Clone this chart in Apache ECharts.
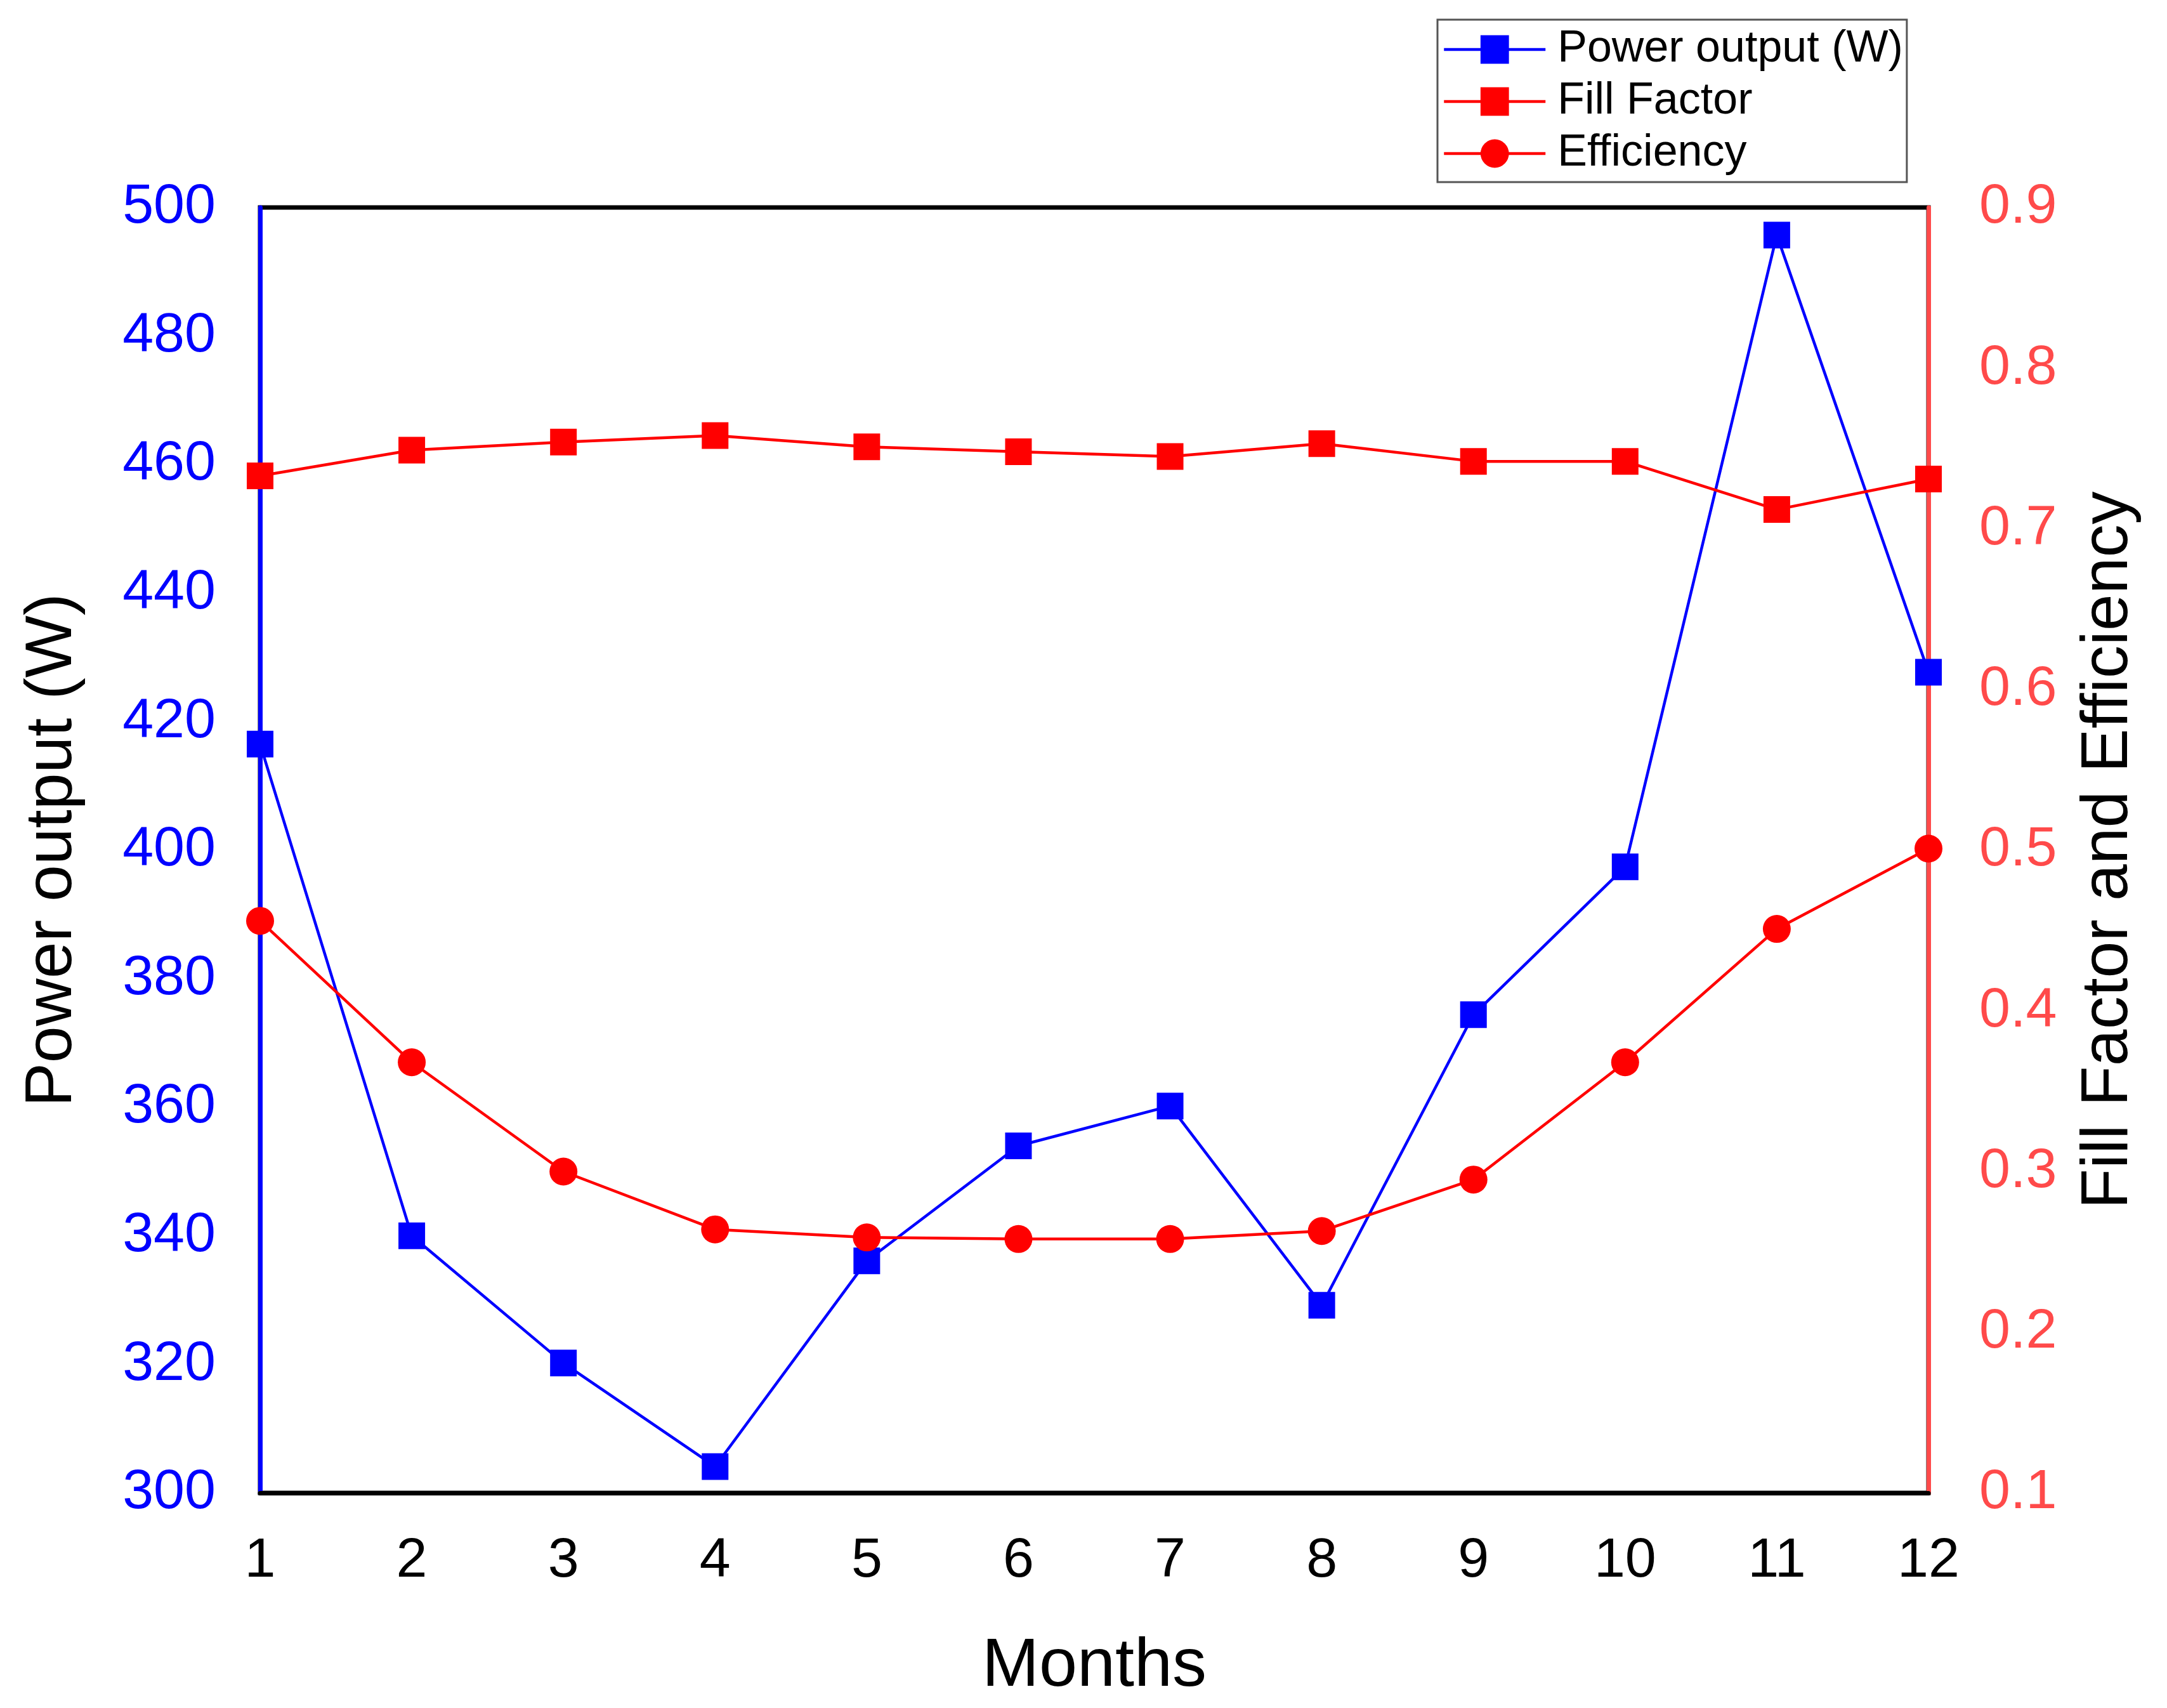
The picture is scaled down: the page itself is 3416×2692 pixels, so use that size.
<!DOCTYPE html>
<html>
<head>
<meta charset="utf-8">
<script src="https://cdn.jsdelivr.net/npm/echarts@6/dist/echarts.min.js"></script>
<style>html,body{margin:0;padding:0;background:#fff;}#c{width:3416px;height:2692px;}</style>
</head>
<body>
<div id="c"></div>
<script>
const months = [1,2,3,4,5,6,7,8,9,10,11,12];
const powerOutput = [416.5, 340.0, 320.2, 304.1, 336.1, 354.0, 360.2, 329.2, 374.4, 397.4, 495.7, 427.7];
const fillFactor = [0.733, 0.749, 0.754, 0.758, 0.751, 0.748, 0.745, 0.753, 0.742, 0.742, 0.712, 0.731];
const efficiency = [0.456, 0.368, 0.300, 0.264, 0.259, 0.258, 0.258, 0.263, 0.295, 0.368, 0.451, 0.501];

const FONT = '"Liberation Sans", Arial, sans-serif';
const BLUE = '#0000ff';
const RED = '#ff0000';
const RED_AX = '#ff4a4a';

const pair = (xs, ys) => xs.map((x, i) => [x, ys[i]]);

const chart = echarts.init(document.getElementById('c'), null, {renderer: 'canvas'});
chart.setOption({
  backgroundColor: '#ffffff',
  animation: false,
  textStyle: {fontFamily: FONT},
  grid: {left: 410, right: 376, top: 327, bottom: 339, show: true, borderColor: '#000', borderWidth: 7, backgroundColor: 'transparent'},
  legend: {
    left: 2266, top: 31, orient: 'vertical',
    padding: [12, 6, 10, 8],
    itemWidth: 160, itemHeight: 56, itemGap: 12,
    borderColor: '#555', borderWidth: 3,
    lineStyle: {width: 4.5},
    textStyle: {fontSize: 70, color: '#000', fontFamily: FONT, padding: [0, 0, 0, 14]},
    data: ['Power output (W)', 'Fill Factor', 'Efficiency']
  },
  xAxis: {
    type: 'value', min: 1, max: 12, interval: 1,
    name: 'Months', nameLocation: 'middle', nameGap: 220,
    nameTextStyle: {fontSize: 108, color: '#000', fontFamily: FONT},
    axisLine: {show: true, lineStyle: {color: '#000', width: 7}},
    axisTick: {show: false},
    splitLine: {show: false},
    axisLabel: {fontSize: 88, color: '#000', margin: 64, fontFamily: FONT}
  },
  yAxis: [
    {
      type: 'value', min: 300, max: 500, interval: 20, position: 'left',
      name: 'Power output (W)', nameLocation: 'middle', nameGap: 275, nameRotate: 90,
      nameTextStyle: {fontSize: 104, color: '#000', fontFamily: FONT},
      axisLine: {show: true, lineStyle: {color: BLUE, width: 7}},
      axisTick: {show: false},
      splitLine: {show: false},
      axisLabel: {fontSize: 88, color: BLUE, margin: 70, fontFamily: FONT}
    },
    {
      type: 'value', min: 0.1, max: 0.9, interval: 0.1, position: 'right',
      name: 'Fill Factor and Efficiency', nameLocation: 'middle', nameGap: 232, nameRotate: 90,
      nameTextStyle: {fontSize: 104, color: '#000', fontFamily: FONT},
      axisLine: {show: true, lineStyle: {color: RED_AX, width: 7}},
      axisTick: {show: false},
      splitLine: {show: false},
      axisLabel: {fontSize: 88, color: RED_AX, margin: 80, fontFamily: FONT,
        formatter: v => v.toFixed(1)}
    }
  ],
  series: [
    {
      name: 'Power output (W)', type: 'line', yAxisIndex: 0,
      data: pair(months, powerOutput),
      symbol: 'rect', symbolSize: 42,
      lineStyle: {color: BLUE, width: 4.5},
      itemStyle: {color: BLUE},
      z: 3
    },
    {
      name: 'Fill Factor', type: 'line', yAxisIndex: 1,
      data: pair(months, fillFactor),
      symbol: 'rect', symbolSize: 42,
      lineStyle: {color: RED, width: 4.5},
      itemStyle: {color: RED},
      z: 4
    },
    {
      name: 'Efficiency', type: 'line', yAxisIndex: 1,
      data: pair(months, efficiency),
      symbol: 'circle', symbolSize: 44,
      lineStyle: {color: RED, width: 4.5},
      itemStyle: {color: RED},
      z: 4
    }
  ]
});
</script>
</body>
</html>
